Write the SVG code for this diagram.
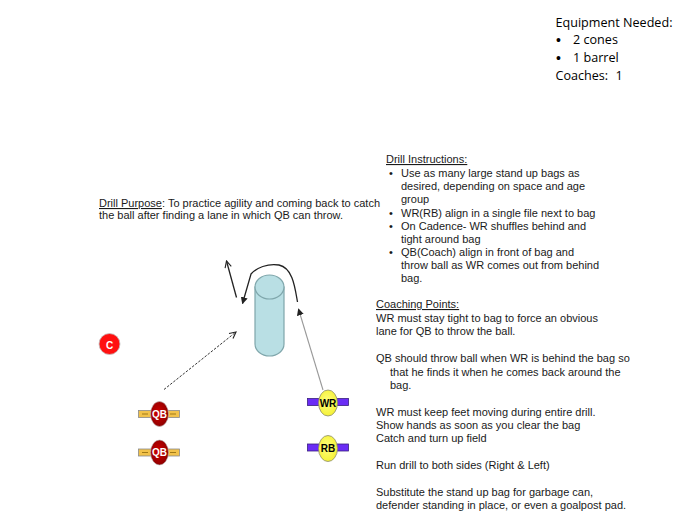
<svg xmlns="http://www.w3.org/2000/svg" width="685" height="531" viewBox="0 0 685 531">
<style>
  .t { font-family: "Liberation Sans", Arial, sans-serif; font-size: 11px; fill: #1a1a1a; }
  .eq { font-family: "Open Sans", "Liberation Sans", sans-serif; font-size: 12.6px; fill: #000; }
  .bul { font-family: "Liberation Sans", Arial, sans-serif; font-size: 14px; fill: #000; }
  .u { text-decoration: underline; }
  .lbl { font-family: "Liberation Sans", Arial, sans-serif; font-size: 10px; font-weight: bold; text-anchor: middle; }
  .qbbar { fill: #f2c24a; stroke: #8a8a8a; stroke-width: 0.8; }
  .qbdash { stroke: #a07a18; stroke-width: 1; }
  .wrbar { fill: #6a2cf5; stroke: #3a2080; stroke-width: 0.8; }
  .conn { fill: none; }
</style>
<defs>
  <radialGradient id="redg" cx="0.45" cy="0.45" r="0.6">
    <stop offset="0" stop-color="#d20000"/>
    <stop offset="1" stop-color="#8a0000"/>
  </radialGradient>
  <radialGradient id="yelg" cx="0.45" cy="0.45" r="0.6">
    <stop offset="0" stop-color="#ffff80"/>
    <stop offset="1" stop-color="#f4f030"/>
  </radialGradient>
  <marker id="openV" viewBox="0 0 10 10" refX="9" refY="5" markerWidth="8" markerHeight="8" orient="auto" markerUnits="userSpaceOnUse">
    <path d="M1,1 L9,5 L1,9" fill="none" stroke="#222" stroke-width="1.4"/>
  </marker>
  <marker id="solid" viewBox="0 0 10 10" refX="9" refY="5" markerWidth="7" markerHeight="7" orient="auto" markerUnits="userSpaceOnUse">
    <path d="M0,0 L10,5 L0,10 Z" fill="#222"/>
  </marker>
</defs>

<!-- Equipment -->
<g id="equipment">
  <text class="eq" x="555.5" y="26.5">Equipment Needed:</text>
  <text class="bul" x="556" y="44.5">•</text><text class="eq" x="573" y="43.5">2 cones</text>
  <text class="bul" x="556" y="62.5">•</text><text class="eq" x="573" y="61.5">1 barrel</text>
  <text class="eq" x="555.5" y="79.5">Coaches:</text><text class="eq" x="615.5" y="79.5">1</text>
</g>

<!-- Drill purpose -->
<g id="purpose">
  <text class="t" x="99" y="207"><tspan class="u">Drill Purpose</tspan>: To practice agility and coming back to catch</text>
  <text class="t" x="99" y="219">the ball after finding a lane in which QB can throw.</text>
</g>

<!-- Drill instructions -->
<g id="instructions">
  <text class="t u" x="386" y="163">Drill Instructions:</text>
  <text class="t" x="389" y="176.5">•</text><text class="t" x="401" y="176.5">Use as many large stand up bags as</text>
  <text class="t" x="401" y="189.5">desired, depending on space and age</text>
  <text class="t" x="401" y="202.5">group</text>
  <text class="t" x="389" y="216.5">•</text><text class="t" x="401" y="216.5">WR(RB) align in a single file next to bag</text>
  <text class="t" x="389" y="229.5">•</text><text class="t" x="401" y="229.5">On Cadence- WR shuffles behind and</text>
  <text class="t" x="401" y="242.5">tight around bag</text>
  <text class="t" x="389" y="256">•</text><text class="t" x="401" y="256">QB(Coach) align in front of bag and</text>
  <text class="t" x="401" y="269">throw ball as WR comes out from behind</text>
  <text class="t" x="401" y="282">bag.</text>
</g>

<!-- Coaching points -->
<g id="coaching">
  <text class="t u" x="376" y="308">Coaching Points:</text>
  <text class="t" x="376" y="322">WR must stay tight to bag to force an obvious</text>
  <text class="t" x="376" y="335">lane for QB to throw the ball.</text>
  <text class="t" x="376" y="361.5">QB should throw ball when WR is behind the bag so</text>
  <text class="t" x="390" y="375.5">that he finds it when he comes back around the</text>
  <text class="t" x="390" y="388.5">bag.</text>
  <text class="t" x="376" y="415.5">WR must keep feet moving during entire drill.</text>
  <text class="t" x="376" y="428.5">Show hands as soon as you clear the bag</text>
  <text class="t" x="376" y="441.5">Catch and turn up field</text>
  <text class="t" x="376" y="469">Run drill to both sides (Right &amp; Left)</text>
  <text class="t" x="376" y="495.5">Substitute the stand up bag for garbage can,</text>
  <text class="t" x="376" y="509">defender standing in place, or even a goalpost pad.</text>
</g>

<!-- Barrel / bag -->
<g id="bag">
  <path d="M255,287 L255,344 A14.5,12 0 0 0 284,344 L284,287 Z" fill="#b9dfe4" stroke="#7fa6ab" stroke-width="1.2"/>
  <ellipse cx="269.5" cy="287" rx="14.5" ry="12" fill="#b9dfe4" stroke="#7fa6ab" stroke-width="1.2"/>
</g>

<!-- Coach -->
<g id="coach">
  <circle cx="109.5" cy="344" r="10.5" fill="#ff1010" stroke="#c0c0c0" stroke-width="0.8"/>
  <text class="lbl" x="109.5" y="348.5" fill="#fff" font-size="12">C</text>
</g>

<!-- QB 1 -->
<g id="qb1">
  <rect class="qbbar" x="138.5" y="410.5" width="41" height="7"/>
  <line class="qbdash" x1="142" y1="414" x2="148" y2="414"/>
  <line class="qbdash" x1="170" y1="414" x2="176" y2="414"/>
  <ellipse cx="159.5" cy="414" rx="9" ry="12.5" fill="url(#redg)" stroke="#bbb" stroke-width="0.6"/>
  <text class="lbl" x="159.5" y="417.5" fill="#fff">QB</text>
</g>

<!-- QB 2 -->
<g id="qb2">
  <rect class="qbbar" x="138.5" y="449" width="41" height="7"/>
  <line class="qbdash" x1="142" y1="452.5" x2="148" y2="452.5"/>
  <line class="qbdash" x1="170" y1="452.5" x2="176" y2="452.5"/>
  <ellipse cx="159.5" cy="452.5" rx="9" ry="12.5" fill="url(#redg)" stroke="#bbb" stroke-width="0.6"/>
  <text class="lbl" x="159.5" y="456" fill="#fff">QB</text>
</g>

<!-- WR -->
<g id="wr">
  <rect class="wrbar" x="307.5" y="398.5" width="41" height="7"/>
  <ellipse cx="328" cy="403" rx="9.5" ry="13" fill="url(#yelg)" stroke="#8a8a70" stroke-width="0.8"/>
  <text class="lbl" x="328" y="406.5" fill="#000">WR</text>
</g>

<!-- RB -->
<g id="rb">
  <rect class="wrbar" x="307.5" y="444" width="41" height="7"/>
  <ellipse cx="328" cy="448.5" rx="9.5" ry="13" fill="url(#yelg)" stroke="#8a8a70" stroke-width="0.8"/>
  <text class="lbl" x="328" y="452" fill="#000">RB</text>
</g>

<!-- Connectors -->
<g id="connectors">
  <line class="conn" x1="236.5" y1="297.5" x2="226.5" y2="261" stroke="#222" stroke-width="1.3" marker-end="url(#openV)"/>
  <path class="conn" d="M297.5,302 C295,288 293,268 279,265 C268,263 256,268 251,274 L242.5,303.5" stroke="#222" stroke-width="1.3" marker-end="url(#solid)"/>
  <line class="conn" x1="164" y1="389.5" x2="236" y2="332" stroke="#333" stroke-width="1" stroke-dasharray="2.5,1.5" marker-end="url(#openV)"/>
  <line class="conn" x1="323" y1="390" x2="298.5" y2="309" stroke="#999" stroke-width="1.1" marker-end="url(#solid)"/>
</g>
</svg>
